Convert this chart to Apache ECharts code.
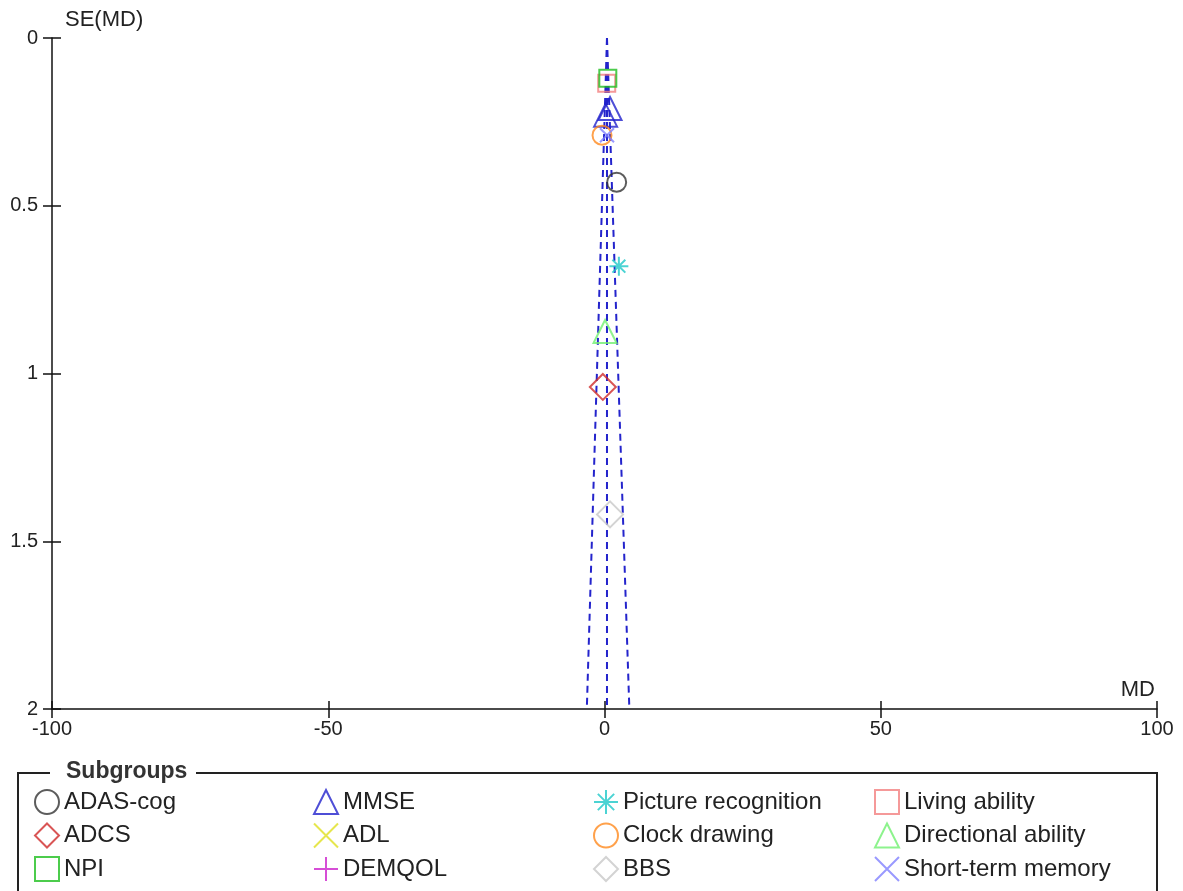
<!DOCTYPE html>
<html>
<head>
<meta charset="utf-8">
<script src="https://cdn.jsdelivr.net/npm/echarts@6/dist/echarts.min.js"></script>
<style>
  html, body { margin: 0; padding: 0; background: #fff; }
  #chart { width: 1183px; height: 891px; }
</style>
</head>
<body>
<div id="chart"></div>
<script>
// points are [MD, SE(MD)]
const adasCog = [[2.2, 0.43]];
const mmse = [[1.0, 0.21], [0.2, 0.23]];
const pictureRecognition = [[2.6, 0.68]];
const livingAbility = [[0.4, 0.135]];
const adcs = [[-0.3, 1.04]];
const adl = [];
const clockDrawing = [[-0.45, 0.29]];
const directionalAbility = [[0.1, 0.875]];
const npi = [[0.6, 0.12]];
const demqol = [];
const bbs = [[1.0, 1.42]];
const shortTermMemory = [[0.45, 0.29]];

// funnel (pseudo 95% CI) lines
const funnelSe = [0, 2];
const funnelCenter = [0.45, 0.45];
const funnelLower = [0.45, -3.2];
const funnelUpper = [0.45, 4.5];

const xTicks = [-100, -50, 0, 50, 100];
const yTicks = [0, 0.5, 1, 1.5, 2];

const legendColumns = [
    ['ADAS-cog', 'ADCS', 'NPI'],
    ['MMSE', 'ADL', 'DEMQOL'],
    ['Picture recognition', 'Clock drawing', 'BBS'],
    ['Living ability', 'Directional ability', 'Short-term memory'],
];
const legendLefts = [34, 313, 593, 874];

const FONT = '"Liberation Sans", Arial, sans-serif';
const pathX = 'path://M0,0L10,10M10,0L0,10';
const pathPlus = 'path://M5,0L5,10M0,5L10,5';
const pathStar = 'path://M5,0L5,10M0,5L10,5M1.6,1.6L8.4,8.4M8.4,1.6L1.6,8.4';

function scatter(name, data, symbol, size, color) {
    return {
        name: name,
        type: 'scatter',
        data: data,
        symbol: symbol,
        symbolSize: size,
        itemStyle: { color: 'rgba(0,0,0,0)', borderColor: color, borderWidth: 2 },
        emphasis: { disabled: true },
        z: 3,
    };
}

function funnelLine(xs) {
    return {
        type: 'line',
        data: xs.map((x, i) => [x, funnelSe[i]]),
        symbol: 'none',
        lineStyle: { color: '#2424cc', width: 2, type: [7, 5] },
        emphasis: { disabled: true },
        silent: true,
        z: 2,
    };
}

const chart = echarts.init(document.getElementById('chart'));

const axisCommon = {
    type: 'value',
    splitLine: { show: false },
    axisLine: { show: true, onZero: false, lineStyle: { color: '#111', width: 1.5 } },
    axisTick: { show: true, length: 9, lineStyle: { color: '#111', width: 1.5 } },
};

chart.setOption({
    animation: false,
    textStyle: { fontFamily: FONT },
    grid: { left: 52, right: 26, top: 38, bottom: 182, containLabel: false },
    xAxis: [
        Object.assign({}, axisCommon, {
            position: 'bottom',
            min: xTicks[0], max: xTicks[xTicks.length - 1], interval: 50,
            axisLabel: { color: '#222', fontSize: 20, margin: 10, fontFamily: FONT },
            name: 'MD',
            nameLocation: 'end',
            nameGap: 0,
            nameTextStyle: { color: '#222', fontSize: 22, align: 'right', verticalAlign: 'bottom', padding: [0, 2, 8, 0], fontFamily: FONT },
        }),
        Object.assign({}, axisCommon, {
            position: 'bottom',
            min: xTicks[0], max: xTicks[xTicks.length - 1], interval: 50,
            axisLine: { show: false, onZero: false },
            axisTick: { show: true, inside: true, length: 8, lineStyle: { color: '#111', width: 1.5 } },
            axisLabel: { show: false },
        }),
    ],
    yAxis: [
        Object.assign({}, axisCommon, {
            position: 'left',
            inverse: true,
            min: yTicks[0], max: yTicks[yTicks.length - 1], interval: 0.5,
            axisLabel: { color: '#222', fontSize: 20, margin: 14, fontFamily: FONT },
            name: 'SE(MD)',
            nameLocation: 'start',
            nameGap: 18,
            nameTextStyle: { color: '#222', fontSize: 22, align: 'left', verticalAlign: 'middle', padding: [0, 0, 0, 13], fontFamily: FONT },
        }),
        Object.assign({}, axisCommon, {
            position: 'left',
            inverse: true,
            min: yTicks[0], max: yTicks[yTicks.length - 1], interval: 0.5,
            axisLine: { show: false, onZero: false },
            axisTick: { show: true, inside: true, length: 9, lineStyle: { color: '#111', width: 1.5 } },
            axisLabel: { show: false },
        }),
    ],
    legend: legendColumns.map((names, i) => ({
        data: names,
        orient: 'vertical',
        left: legendLefts[i],
        top: 789,
        padding: 0,
        itemWidth: 24,
        itemHeight: 24,
        itemGap: 7.5,
        selectedMode: false,
        textStyle: { color: '#222', fontSize: 24, lineHeight: 24, fontFamily: FONT },
    })),
    graphic: [
        {
            type: 'polyline',
            shape: { points: [[50, 773], [18, 773], [18, 900]] },
            style: { stroke: '#222', lineWidth: 2, fill: null },
        },
        {
            type: 'polyline',
            shape: { points: [[196, 773], [1157, 773], [1157, 900]] },
            style: { stroke: '#222', lineWidth: 2, fill: null },
        },
        {
            type: 'text',
            left: 66,
            top: 760,
            style: { text: 'Subgroups', fill: '#333', font: 'bold 23px ' + FONT },
        },
    ],
    series: [
        funnelLine(funnelCenter),
        funnelLine(funnelLower),
        funnelLine(funnelUpper),
        scatter('ADAS-cog', adasCog, 'circle', 19, '#333333'),
        scatter('MMSE', mmse, 'triangle', 23, '#2222cc'),
        scatter('Picture recognition', pictureRecognition, pathStar, 19, '#1ec8c8'),
        scatter('Living ability', livingAbility, 'rect', 17, '#f28080'),
        scatter('ADCS', adcs, 'diamond', 26, '#d02a2a'),
        scatter('ADL', adl, pathX, 20, '#e0e020'),
        scatter('Clock drawing', clockDrawing, 'circle', 19, '#ff8a1e'),
        scatter('Directional ability', directionalAbility, 'triangle', 23, '#70f070'),
        scatter('NPI', npi, 'rect', 17, '#1fbf1f'),
        scatter('DEMQOL', demqol, pathPlus, 22, '#cc22cc'),
        scatter('BBS', bbs, 'diamond', 26, '#c8c8c8'),
        scatter('Short-term memory', shortTermMemory, pathX, 14, '#8080ff'),
    ],
});
</script>
</body>
</html>
